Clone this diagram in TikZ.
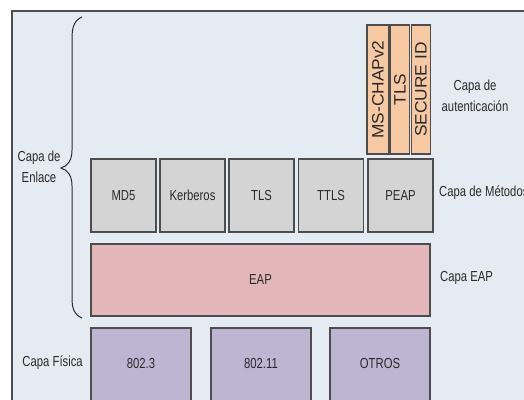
\documentclass[tikz,border=0pt]{standalone}
\usepackage{fontspec}
\setmainfont{Liberation Sans}[FakeStretch=0.78]
\newfontfamily\rotfont{Liberation Sans}[FakeStretch=1.05]
\definecolor{bgc}{HTML}{E5EBF2}
\definecolor{grayc}{HTML}{D4D4D4}
\definecolor{pinkc}{HTML}{E3B6B9}
\definecolor{lavc}{HTML}{BEB5D2}
\definecolor{orc}{HTML}{F6C9A3}
\definecolor{linec}{HTML}{4D4D4D}
\definecolor{txtc}{HTML}{2A2A2A}
\begin{document}
\begin{tikzpicture}[x=1pt,y=-1pt,
  lbl/.style={font=\fontsize{14.5}{21}\selectfont, text=txtc, inner sep=0},
  boxbase/.style={draw=linec, line width=1.1pt, inner sep=0, text=txtc, font=\fontsize{14.5}{18}\selectfont},
  meth/.style={boxbase, fill=grayc, minimum width=65, minimum height=73},
  auth/.style={boxbase, fill=orc, minimum height=20, minimum width=129, rotate=90, font=\rotfont\fontsize{16.5}{18}\selectfont},
  eapbox/.style={boxbase, fill=pinkc, minimum width=339, minimum height=72},
  phys/.style={boxbase, fill=lavc, minimum width=100, minimum height=0, inner ysep=0, text height=40, text depth=37}
]
\useasboundingbox (0,0) rectangle (524,399);
\fill[white] (0,0) rectangle (524,399);
\fill[bgc] (12,11) rectangle (530,405);
\draw[linec, line width=1.1pt] (12,405) -- (12,11) -- (530,11);

% brace
\draw[txtc, line width=1pt] (82,17) .. controls (75,20) and (72,26) .. (72,38)
  -- (72,150) .. controls (72,160) and (68,166) .. (61,168)
  .. controls (68,170) and (72,176) .. (72,186)
  -- (72,298) .. controls (72,310) and (75,315) .. (82,318);

% methods
\node[meth] (md5) at (123.5,195.5) {MD5};
\node[meth] (kerb) at (192.5,195.5) {Kerberos};
\node[meth] (tls) at (261.5,195.5) {TLS};
\node[meth] (ttls) at (331,195.5) {TTLS};
\node[meth] (peap) at (400.5,195.5) {PEAP};

% authentication
\node[auth, minimum height=22] (ms) at (378,89.5) {MS-CHAPv2};
\node[auth, minimum height=19] (atls) at (400,89.5) {TLS};
\node[auth, minimum height=19] (sec) at (421,89.5) {SECURE ID};

% EAP
\node[eapbox] (eap) at (260.5,280) {EAP};

% physical
\node[phys] (p1) at (141,366.5) {802.3};
\node[phys] (p2) at (261,366.5) {802.11};
\node[phys] (p3) at (380,366.5) {OTROS};

% labels
\node[lbl, align=center] (lenl) at (39,167) {Capa de\\Enlace};
\node[lbl, align=center] (laut) at (475,96) {Capa de\\autenticación};
\node[lbl, anchor=west] (lmet) at (439,193) {Capa de Métodos};
\node[lbl, anchor=west] (leap) at (440,278) {Capa EAP};
\node[lbl, anchor=east] (lfis) at (83,363) {Capa Física};
\end{tikzpicture}
\end{document}
